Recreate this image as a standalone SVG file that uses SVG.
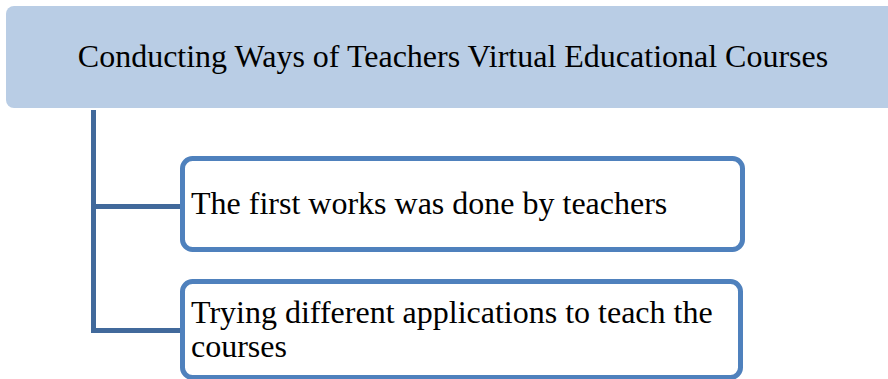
<svg xmlns="http://www.w3.org/2000/svg" width="888" height="379" viewBox="0 0 888 379">
<style>
.t{font-family:"Liberation Serif","Times New Roman",serif;font-size:32px;fill:#000}
.box{fill:#fff;stroke:#4f81bd;stroke-width:5}
.conn{fill:none;stroke:#41699b;stroke-width:5}
</style>
<rect width="888" height="379" fill="#fff"/>
<g id="connectors">
<path class="conn" d="M93.500,110 V330.500 H182"/>
<path class="conn" d="M93.500,206.500 H182"/>
</g>
<g id="header">
<rect x="6" y="6" width="890" height="102" rx="8" fill="#b9cde5"/>
<text class="t" x="453" y="67" text-anchor="middle">Conducting Ways of Teachers Virtual Educational Courses</text>
</g>
<g id="node1">
<rect class="box" x="182.500" y="158.500" width="560" height="91" rx="10"/>
<text class="t" x="191" y="214">The first works was done by teachers</text>
</g>
<g id="node2">
<rect class="box" x="182.500" y="281.500" width="558" height="96" rx="10"/>
<text class="t" x="191" y="323">Trying different applications to teach the</text>
<text class="t" x="191" y="357">courses</text>
</g>
</svg>
